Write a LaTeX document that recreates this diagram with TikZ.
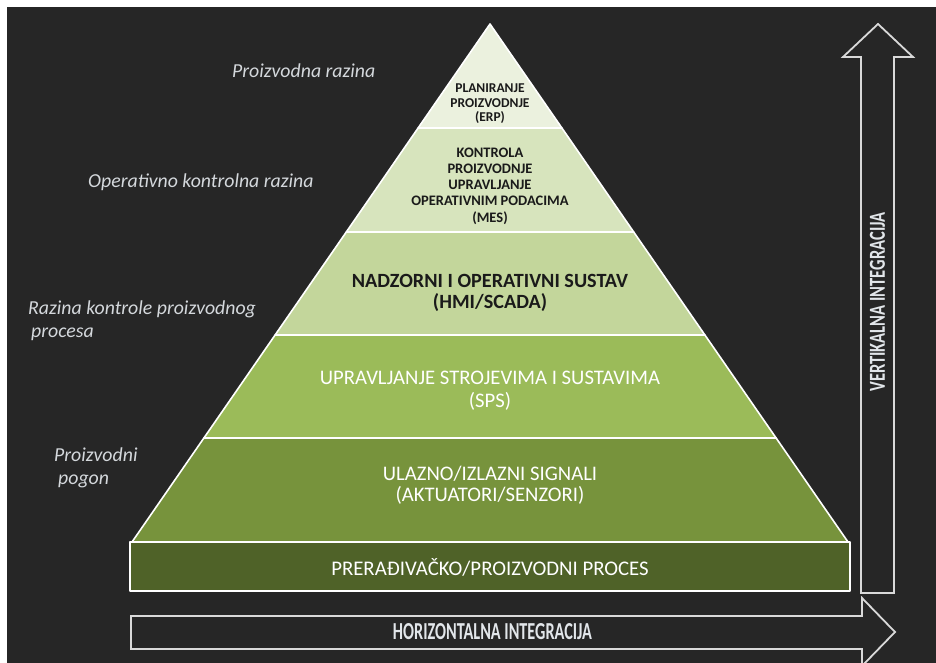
\documentclass[tikz,border=0pt]{standalone}
\usepackage{fontspec}
\setmainfont{Carlito}
\usepackage{graphicx}
\definecolor{bg}{HTML}{262626}
\definecolor{erp}{HTML}{EBF1DE}
\definecolor{mes}{HTML}{D7E4BD}
\definecolor{hmi}{HTML}{C3D69B}
\definecolor{sps}{HTML}{9BBB59}
\definecolor{sig}{HTML}{77933C}
\definecolor{proc}{HTML}{4F6228}
\definecolor{lbl}{HTML}{D4D8DC}
\definecolor{arrtext}{HTML}{E2E6EA}
\definecolor{darktext}{HTML}{1A1A1A}
\tikzset{
  band/.style={draw=white, line width=1.6pt, line join=round},
  arrowline/.style={draw=white!85!black, line width=1.8pt, line join=miter},
  bandtext/.style={inner sep=0pt, align=center},
  sidelabel/.style={inner sep=0pt, anchor=base west, align=left, text=lbl,
    font=\fontsize{19.8}{23}\selectfont\itshape},
}
\begin{document}
\begin{tikzpicture}[x=1pt,y=-1pt]
\useasboundingbox (0,0) rectangle (936,663);
\fill[white] (0,0) rectangle (936,663);
\fill[bg] (7,7) rectangle (936,663);

% pyramid bands
\path[band, fill=sig]  (203.9,438) -- (776.1,438) -- (848,542) -- (132,542) -- cycle;
\path[band, fill=sps]  (275.1,335) -- (704.9,335) -- (776.1,438) -- (203.9,438) -- cycle;
\path[band, fill=hmi]  (346.3,232) -- (633.7,232) -- (704.9,335) -- (275.1,335) -- cycle;
\path[band, fill=mes]  (418.1,128) -- (561.9,128) -- (633.7,232) -- (346.3,232) -- cycle;
\path[band, fill=erp]  (490,24) -- (561.9,128) -- (418.1,128) -- cycle;
\path[band, fill=proc] (130,542) rectangle (850,591);

% arrows
\path[arrowline] (131,616) -- (862,616) -- (862,598) -- (895,632) -- (862,666) -- (862,649) -- (131,649) -- cycle;
\path[arrowline] (861,593) -- (861,57) -- (843,57) -- (878,24) -- (913,57) -- (894,57) -- (894,593) -- cycle;

% band texts
\node[bandtext, text=darktext, font=\fontsize{13.5}{14.5}\selectfont\bfseries] (erptext) at (490,104)
  {PLANIRANJE\\PROIZVODNJE\\(ERP)};
\node[bandtext, text=darktext, font=\fontsize{14.5}{16.2}\selectfont\bfseries] (mestext) at (490,186)
  {KONTROLA\\PROIZVODNJE\\UPRAVLJANJE\\OPERATIVNIM PODACIMA\\(MES)};
\node[bandtext, text=darktext, font=\fontsize{20.2}{21}\selectfont\bfseries] (hmitext) at (490,293)
  {NADZORNI I OPERATIVNI SUSTAV\\(HMI/SCADA)};
\node[bandtext, text=white, font=\fontsize{20.7}{23}\selectfont] (spstext) at (490,391)
  {UPRAVLJANJE STROJEVIMA I SUSTAVIMA\\(SPS)};
\node[bandtext, text=white, font=\fontsize{20.7}{21}\selectfont] (sigtext) at (490,485)
  {ULAZNO/IZLAZNI SIGNALI\\(AKTUATORI/SENZORI)};
\node[bandtext, text=white, font=\fontsize{20.8}{22}\selectfont] (proctext) at (490,567)
  {PRERAĐIVAČKO/PROIZVODNI PROCES};

% arrow texts
\node[inner sep=0pt, text=arrtext] (htext) at (492.5,632)
  {\resizebox{199pt}{16pt}{\bfseries HORIZONTALNA INTEGRACIJA}};
\node[inner sep=0pt, text=arrtext, rotate=90] (vtext) at (877.5,302)
  {\resizebox{179pt}{15pt}{\bfseries VERTIKALNA INTEGRACIJA}};

% side labels
\node[sidelabel] (l1) at (232,78) {Proizvodna razina};
\node[sidelabel] (l2) at (88,188) {Operativno kontrolna razina};
\node[sidelabel] (l3) at (28,337) {Razina kontrole proizvodnog\\\hspace*{3pt}procesa};
\node[sidelabel] (l4) at (54,484) {Proizvodni\\\hspace*{4pt}pogon};
\end{tikzpicture}
\end{document}
